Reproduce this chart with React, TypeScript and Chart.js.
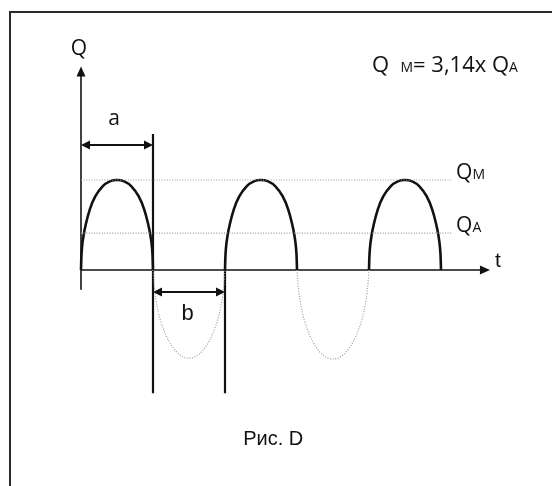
import React, { useEffect, useRef } from "react";
import { Chart, registerables } from "chart.js";

Chart.register(...registerables);

// time in half-periods (a = b = 1), Q in units of Q_M
const ARCH_STARTS = [0, 2, 4];
const ARCH_T = [0, 0.004, 0.014, 0.035, 0.07, 0.125, 0.2, 0.3, 0.4, 0.5];
const ARCH_Q = [0, 0.12, 0.25, 0.38, 0.52, 0.68, 0.82, 0.93, 0.985, 1.0];

const NEG_STARTS = [1, 3];
const NEG_DEPTH = [0.98, 0.99];
const NEG_T = [0, 0.02, 0.05, 0.1, 0.17, 0.26, 0.37, 0.5];
const NEG_Q = [0, 0.2, 0.38, 0.56, 0.72, 0.86, 0.96, 1.0];

const Q_M = 1.0;
const Q_A = 0.41;
const REF_END = 5.15;

const X_AXIS_END = 5.68;
const Y_AXIS_TOP = 2.26;
const Y_AXIS_BOTTOM = -0.22;

const MARK_A_Q = 1.39;
const MARK_B_Q = -0.245;
const CUT_TOP = 1.51;
const CUT_BOTTOM = -1.37;

const FORMULA = [
  { text: "Q", size: 22 },
  { text: "  ", size: 22 },
  { text: "M", size: 14 },
  { text: "= 3,14x ", size: 22 },
  { text: "Q", size: 22 },
  { text: "A", size: 14 },
];

function mirrorProfile(ts: number[], qs: number[]) {
  const t = [...ts];
  const q = [...qs];
  for (let i = ts.length - 2; i >= 0; i--) {
    t.push(1 - ts[i]);
    q.push(qs[i]);
  }
  return { t, q };
}

export default function App() {
  const ref = useRef<HTMLCanvasElement | null>(null);

  useEffect(() => {
    if (!ref.current) return;
    const arch = mirrorProfile(ARCH_T, ARCH_Q);
    const neg = mirrorProfile(NEG_T, NEG_Q);

    const solid = (data: { x: number; y: number }[], w: number, monotone = false) => ({
      data,
      borderColor: "#111",
      borderWidth: w,
      pointRadius: 0,
      fill: false,
      tension: 0,
      cubicInterpolationMode: monotone ? "monotone" : "default",
    });
    const dotted = (data: { x: number; y: number }[], monotone = false) => ({
      data,
      borderColor: "#9c9c9c",
      borderWidth: 1.2,
      borderDash: [1, 1.6],
      pointRadius: 0,
      fill: false,
      tension: 0,
      cubicInterpolationMode: monotone ? "monotone" : "default",
    });

    const datasets: any[] = [];
    datasets.push(dotted([{ x: 0, y: Q_M }, { x: REF_END, y: Q_M }]));
    datasets.push(dotted([{ x: 0, y: Q_A }, { x: REF_END, y: Q_A }]));
    NEG_STARTS.forEach((s, k) => {
      datasets.push(
        dotted(
          neg.t.map((t, i) => ({ x: s + t, y: -neg.q[i] * NEG_DEPTH[k] })),
          true
        )
      );
    });
    ARCH_STARTS.forEach((s) => {
      datasets.push(solid(arch.t.map((t, i) => ({ x: s + t, y: arch.q[i] * Q_M })), 2.6, true));
    });
    // axes
    datasets.push(solid([{ x: 0, y: 0 }, { x: X_AXIS_END - 0.08, y: 0 }], 1.6));
    datasets.push(solid([{ x: 0, y: Y_AXIS_BOTTOM }, { x: 0, y: Y_AXIS_TOP - 0.08 }], 1.6));
    // cut lines
    datasets.push(solid([{ x: 1, y: CUT_TOP }, { x: 1, y: CUT_BOTTOM }], 2.2));
    datasets.push(solid([{ x: 2, y: 0 }, { x: 2, y: CUT_BOTTOM }], 2.2));
    // dimension arrows
    datasets.push(solid([{ x: 0.08, y: MARK_A_Q }, { x: 0.92, y: MARK_A_Q }], 2));
    datasets.push(solid([{ x: 1.08, y: MARK_B_Q }, { x: 1.92, y: MARK_B_Q }], 2));

    const head = (ctx: CanvasRenderingContext2D, x: number, y: number, ang: number, L: number, W: number) => {
      ctx.save();
      ctx.translate(x, y);
      ctx.rotate(ang);
      ctx.beginPath();
      ctx.moveTo(0, 0);
      ctx.lineTo(-L, -W);
      ctx.lineTo(-L, W);
      ctx.closePath();
      ctx.fillStyle = "#111";
      ctx.fill();
      ctx.restore();
    };

    const decor = {
      id: "decor",
      afterDatasetsDraw(chart: any) {
        const ctx: CanvasRenderingContext2D = chart.ctx;
        const xs = chart.scales.x;
        const ys = chart.scales.y;
        const px = (v: number) => xs.getPixelForValue(v);
        const py = (v: number) => ys.getPixelForValue(v);
        ctx.save();
        // axis arrowheads
        head(ctx, px(X_AXIS_END), py(0), 0, 10, 4.5);
        head(ctx, px(0), py(Y_AXIS_TOP), -Math.PI / 2, 10, 4.5);
        // dimension arrowheads
        head(ctx, px(0), py(MARK_A_Q), Math.PI, 9, 4.5);
        head(ctx, px(1), py(MARK_A_Q), 0, 9, 4.5);
        head(ctx, px(1), py(MARK_B_Q), Math.PI, 9, 4.5);
        head(ctx, px(2), py(MARK_B_Q), 0, 9, 4.5);

        ctx.fillStyle = "#111";
        ctx.textBaseline = "alphabetic";
        const sans = "'Open Sans', 'Noto Sans', sans-serif";
        const arial = "'Liberation Sans', Arial, sans-serif";

        ctx.textAlign = "center";
        ctx.font = `21px ${sans}`;
        ctx.fillText("Q", px(-0.03), py(2.39));
        ctx.font = `21px ${sans}`;
        ctx.fillText("a", px(0.46), py(1.61));
        ctx.font = `22px ${arial}`;
        ctx.fillText("b", px(1.48), py(-0.556));
        ctx.font = `20px ${arial}`;
        ctx.fillText("Рис. D", px(2.67), py(-1.94));

        ctx.textAlign = "left";
        ctx.font = `21px ${arial}`;
        ctx.fillText("t", px(5.75), py(0.033));

        const runs = (segs: { text: string; size: number }[], x: number, y: number) => {
          let cx = x;
          segs.forEach((s) => {
            ctx.font = `${s.size}px ${sans}`;
            ctx.fillText(s.text, cx, y);
            cx += ctx.measureText(s.text).width;
          });
        };
        runs(FORMULA, px(4.04), py(2.2));
        runs([{ text: "Q", size: 21 }, { text: "M", size: 14 }], px(5.21), py(Q_M + 0.01));
        runs([{ text: "Q", size: 21 }, { text: "A", size: 14 }], px(5.21), py(Q_A + 0.01));
        ctx.restore();
      },
    };

    const chart = new Chart(ref.current, {
      type: "line",
      data: { datasets },
      options: {
        animation: false,
        responsive: false,
        devicePixelRatio: 1,
        events: [],
        layout: { padding: 0 },
        plugins: { legend: { display: false }, tooltip: { enabled: false } },
        scales: {
          x: { type: "linear", min: -1.125, max: 6.5417, display: false },
          y: { type: "linear", min: -2.4, max: 3.0, display: false },
        },
      },
      plugins: [decor],
    });
    return () => chart.destroy();
  }, []);

  return (
    <div style={{ position: "fixed", left: 0, top: 0, width: 552, height: 486, background: "#fff", overflow: "hidden" }}>
      <div
        style={{
          position: "absolute",
          left: 9,
          top: 11,
          width: 560,
          height: 500,
          borderLeft: "2px solid #2a2a2a",
          borderTop: "2px solid #2a2a2a",
        }}
      />
      <canvas ref={ref} width={552} height={486} style={{ position: "absolute", left: 0, top: 0 }} />
    </div>
  );
}
